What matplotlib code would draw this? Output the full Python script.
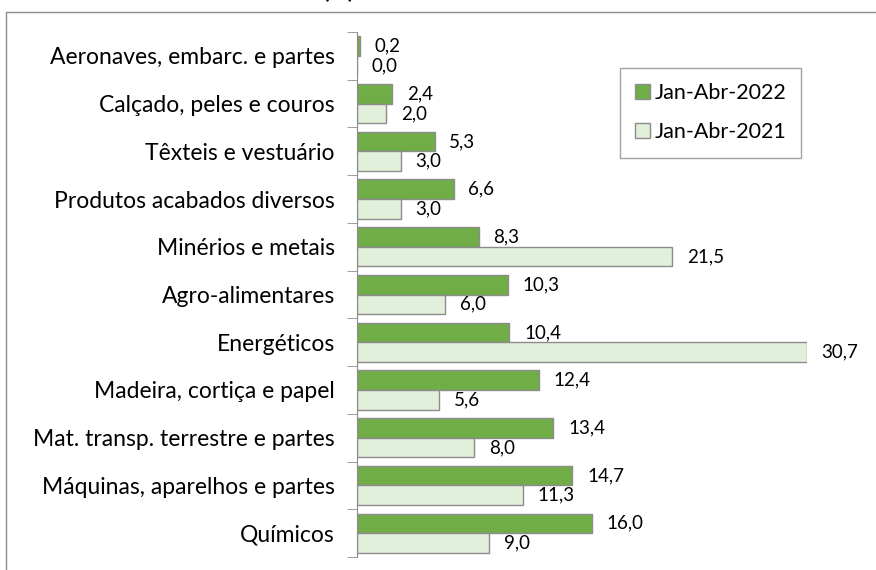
import numpy as np
import matplotlib.pyplot as plt
from matplotlib.patches import Rectangle

# Dados (de cima para baixo)
categorias = ['Aeronaves, embarc. e partes', 'Calçado, peles e couros', 'Têxteis e vestuário',
              'Produtos acabados diversos', 'Minérios e metais', 'Agro-alimentares', 'Energéticos',
              'Madeira, cortiça e papel', 'Mat. transp. terrestre e partes',
              'Máquinas, aparelhos e partes', 'Químicos']
v2022 = [0.2, 2.4, 5.3, 6.6, 8.3, 10.3, 10.4, 12.4, 13.4, 14.7, 16.0]
v2021 = [0.0, 2.0, 3.0, 3.0, 21.5, 6.0, 30.7, 5.6, 8.0, 11.3, 9.0]

plt.rcParams['font.family'] = ['Lato', 'DejaVu Sans']

fig = plt.figure(figsize=(8.76, 5.70), dpi=100)
ax = fig.add_axes([357 / 876, 1 - 557 / 570, 450 / 876, 525 / 570])

n = len(categorias)
y = np.arange(n)
h = 0.41
verde = '#70AD47'
claro = '#E2EFDA'
borda = '#8C8C8C'

ax.barh(y - h / 2, v2022, height=h, color=verde, edgecolor=borda, linewidth=1, label='Jan-Abr-2022')
ax.barh(y + h / 2, v2021, height=h, color=claro, edgecolor=borda, linewidth=1, label='Jan-Abr-2021')

# rótulos dos valores
for i in range(n):
    ax.annotate(f'{v2022[i]:.1f}'.replace('.', ','), (v2022[i], y[i] - h / 2), xytext=(10.5, 0),
                textcoords='offset points', va='center', ha='left', fontsize=13.5, clip_on=False)
    ax.annotate(f'{v2021[i]:.1f}'.replace('.', ','), (v2021[i], y[i] + h / 2), xytext=(10.5, 0),
                textcoords='offset points', va='center', ha='left', fontsize=13.5, clip_on=False)

ax.set_xlim(0, 30.7)
ax.set_ylim(n - 0.5, -0.5)
ax.set_yticks(y)
ax.set_yticklabels(categorias, fontsize=16.5)
ax.set_yticks(np.arange(n + 1) - 0.5, minor=True)
ax.tick_params(axis='y', which='major', length=0, pad=16)
ax.tick_params(axis='y', which='minor', length=7, color=borda)
ax.set_xticks([])
for s in ['top', 'right', 'bottom']:
    ax.spines[s].set_visible(False)
ax.spines['left'].set_color(borda)

leg = ax.legend(loc='upper left', bbox_to_anchor=(263 / 450, (557 - 68) / 525), fontsize=15.5,
                frameon=True, fancybox=False, edgecolor=borda, handlelength=0.7, handleheight=0.7,
                handletextpad=0.2, labelspacing=0.9, borderpad=0.7, borderaxespad=0)
leg.get_frame().set_linewidth(1)

# moldura do gráfico e resto do título
fig.patches.append(Rectangle((6 / 876, -0.05), 1.0, 1 - 12 / 570 + 0.05, transform=fig.transFigure,
                             fill=False, edgecolor='#8C8C8C', linewidth=1))
fig.text(338 / 876, 1 + 2 / 570, '(%)', ha='center', va='baseline', fontsize=17, fontweight='bold')

fig.savefig('out.png', dpi=100)
